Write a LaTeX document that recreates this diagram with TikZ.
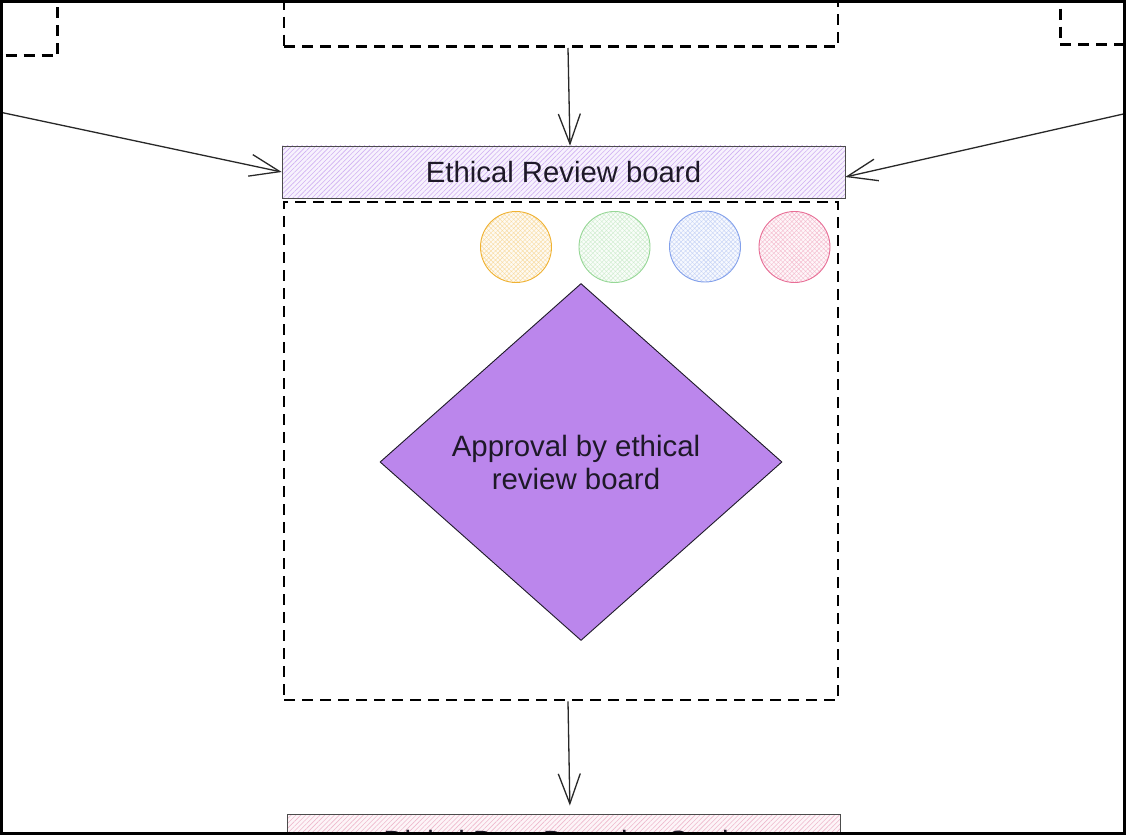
\documentclass[tikz,border=0pt]{standalone}
\usepackage{fontspec}
\setmainfont{Liberation Sans}
\usetikzlibrary{arrows.meta,patterns.meta,shapes.geometric,calc}

\definecolor{diafill}{RGB}{187,134,236}
\definecolor{hdrline}{RGB}{208,176,242}
\definecolor{hdrbase}{RGB}{247,242,253}
\definecolor{pinkline}{RGB}{238,184,204}
\definecolor{pinkbase}{RGB}{253,245,248}
\definecolor{orangeC}{RGB}{240,178,50}
\definecolor{greenC}{RGB}{150,215,150}
\definecolor{blueC}{RGB}{130,160,235}
\definecolor{pinkC}{RGB}{232,110,150}
\definecolor{inkC}{RGB}{30,25,40}
\definecolor{wireC}{RGB}{40,40,40}

\begin{document}
\begin{tikzpicture}[x=1pt,y=-1pt,
  dashbox/.style={rectangle, draw=black, line width=2.6pt,
    dash pattern=on 11pt off 7pt, inner sep=0pt},
  banner/.style={rectangle, draw=black!70, line width=0.9pt, inner sep=0pt,
    minimum height=52pt, text=inkC, font=\fontsize{29.3}{33}\selectfont},
  hatched/.style={preaction={fill=#1base},
    pattern={Lines[angle=45,distance=3.4pt,line width=0.6pt]}, pattern color=#1line},
  token/.style={circle, minimum size=71pt, inner sep=0pt, line width=0.9pt,
    draw=#1, preaction={fill=#1!6},
    pattern={Hatch[angle=45,distance=3.2pt,line width=0.45pt]}, pattern color=#1!45},
  decision/.style={diamond, draw=inkC, line width=0.9pt, fill=diafill,
    inner sep=0pt, minimum width=402pt, minimum height=357pt, align=center,
    text=inkC, font=\fontsize{29.4}{33}\selectfont},
  conn/.style={draw=wireC, line width=1.3pt,
    -{Straight Barb[length=30pt,width=22pt,line width=1.3pt]}}
]
\useasboundingbox (0,0) rectangle (1127,837);
\fill[white] (0,0) rectangle (1127,837);

\begin{scope}
  \clip (2.5,2.5) rectangle (1123.5,832.5);

  % partially visible stages above
  \node[dashbox, minimum width=160pt, minimum height=120pt, anchor=south east] (tl) at (59,57) {};
  \node[dashbox, minimum width=554pt, minimum height=100pt, anchor=south] (tc) at (561,48) {};
  \node[dashbox, minimum width=150pt, minimum height=120pt, anchor=south west] (tr) at (1059,46) {};

  % ethical review stage
  \node[banner, hatched=hdr, minimum width=563pt] (hdr) at (563.5,172) {Ethical Review board};
  \node[dashbox, minimum width=554pt, minimum height=498pt] (grp) at (561,451) {};

  \node[token=orangeC] (c1) at (516,247) {};
  \node[token=greenC]  (c2) at (614.5,247) {};
  \node[token=blueC]   (c3) at (705,246.5) {};
  \node[token=pinkC]   (c4) at (794.5,247) {};

  \node[decision] (dec) at (581,462) {\hspace*{-10pt}Approval by ethical\\\hspace*{-10pt}review board};

  % next stage, cut off at the bottom
  \node[banner, hatched=pink, minimum width=553pt, minimum height=60pt] (dds) at (563.5,844) {Digital Data Donation Study};

  % incoming links from off-page stages
  \coordinate (lsrc) at (-3,111.5);
  \coordinate (rsrc) at (1130,112.5);

  \draw[conn] ([xshift=7pt]tc.south) -- ([xshift=6.5pt]hdr.north);
  \draw[conn] (lsrc) -- (hdr.west);
  \draw[conn] (rsrc) -- ([yshift=-5pt]hdr.east);
  \draw[conn, shorten >=8pt] ([xshift=7pt]grp.south) -- ([xshift=6.5pt]dds.north);
\end{scope}

% outer frame
\draw[black, line width=2.6pt] (1.5,1.5) rectangle (1124.5,833.5);
\end{tikzpicture}
\end{document}
